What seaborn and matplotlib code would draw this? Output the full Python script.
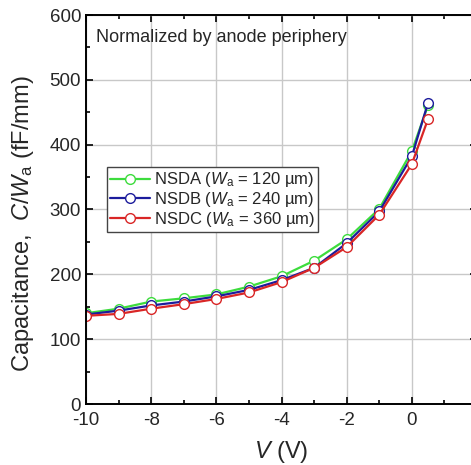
import matplotlib
matplotlib.use("Agg")
import matplotlib.pyplot as plt
import seaborn as sns
import pandas as pd
from matplotlib.ticker import MultipleLocator

# bias voltage points
voltage = [-10, -9, -8, -7, -6, -5, -4, -3, -2, -1, 0, 0.5]
# capacitance per anode width (fF/mm)
nsda = [140, 147, 158, 163, 169, 181, 197, 221, 254, 301, 390, 461]
nsdb = [138, 144, 152, 158, 166, 176, 191, 210, 248, 297, 382, 465]
nsdc = [136, 139, 147, 154, 162, 172, 188, 210, 242, 292, 370, 440]

labels = [r"NSDA ($W_\mathrm{a}$ = 120 µm)",
          r"NSDB ($W_\mathrm{a}$ = 240 µm)",
          r"NSDC ($W_\mathrm{a}$ = 360 µm)"]
colors = ["#3ddc3d", "#1c1c9c", "#d92626"]
xticks = [-10, -8, -6, -4, -2, 0]

sns.set_style("ticks")
plt.rcParams['font.family'] = ['Liberation Sans', 'DejaVu Sans']
plt.rcParams['axes.unicode_minus'] = False
plt.rcParams['mathtext.fontset'] = 'custom'
plt.rcParams['mathtext.it'] = 'Liberation Sans:italic'
plt.rcParams['mathtext.rm'] = 'Liberation Sans'

fig = plt.figure(figsize=(4.71, 4.65), dpi=100)
ax = fig.add_axes([86 / 471, 61 / 465, 391 / 471, 389 / 465])

for vals, lab, col in zip([nsda, nsdb, nsdc], labels, colors):
    df = pd.DataFrame({"V": voltage, "C": vals})
    sns.lineplot(data=df, x="V", y="C", ax=ax, color=col, label=lab,
                 lw=1.6, marker="o", ms=7, mfc="white", mec=col, mew=1.0)

ax.set_xlim(-10, 2)
ax.set_ylim(0, 600)
ax.set_xticks(xticks)
ax.xaxis.set_minor_locator(MultipleLocator(1))
ax.yaxis.set_major_locator(MultipleLocator(100))
ax.yaxis.set_minor_locator(MultipleLocator(50))
ax.grid(True, which="major", color="#c8c8c8", lw=1.0)
ax.set_axisbelow(True)
ax.tick_params(which="both", direction="in", top=True, right=True,
               labelsize=13.5, width=1.2, color="black")
ax.tick_params(which="major", length=5)
ax.tick_params(which="minor", length=3)
ax.tick_params(axis="x", which="major", pad=6)
for sp in ax.spines.values():
    sp.set_linewidth(1.4)
    sp.set_color("black")

ax.set_xlabel(r"$V$ (V)", fontsize=17, labelpad=7)
ax.set_ylabel(r"Capacitance,  $C$/$W_\mathrm{a}$ (fF/mm)", fontsize=17)
ax.yaxis.set_label_coords(-0.127, 0.463)
ax.text(0.026, 0.965, "Normalized by anode periphery", transform=ax.transAxes,
        fontsize=13, va="top", ha="left")

leg = ax.legend(loc="upper left", bbox_to_anchor=(0.054, 0.609), borderaxespad=0,
                fontsize=12, fancybox=False, edgecolor="#444444", framealpha=1,
                handlelength=2.4, handletextpad=0.2, borderpad=0.2, labelspacing=0.05)
leg.get_frame().set_linewidth(1.0)

fig.savefig("out.png", dpi=100)
